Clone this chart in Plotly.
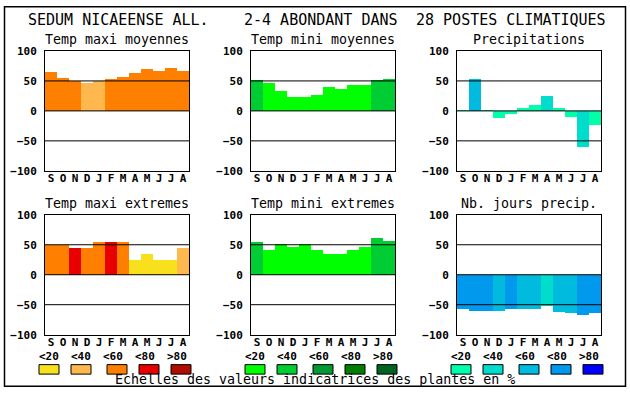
import html
import plotly.graph_objects as go

# ---------------- data ----------------
months = ["S", "O", "N", "D", "J", "F", "M", "A", "M", "J", "J", "A"]
panel_titles = ["Temp maxi moyennes", "Temp mini moyennes", "Precipitations",
                "Temp maxi extremes", "Temp mini extremes", "Nb. jours precip."]
y_ticks = [-100, -50, 0, 50, 100]
scale_labels = ["<20", "<40", "<60", "<80", ">80"]

tmax_moy = [65, 55, 50, 47, 50, 53, 57, 63, 70, 67, 72, 67]
tmax_moy_cls = [2, 2, 2, 1, 1, 2, 2, 2, 2, 2, 2, 2]
tmin_moy = [52, 47, 34, 24, 24, 27, 40, 37, 44, 44, 52, 54]
tmin_moy_cls = [1, 0, 0, 0, 0, 0, 0, 0, 0, 0, 1, 1]
precip = [2, 54, 2, -12, -6, 5, 10, 25, 4, -11, -61, -23]
precip_cls = [0, 2, 0, 0, 0, 0, 0, 1, 0, 0, 1, 0]
tmax_ext = [49, 49, 44, 45, 54, 55, 54, 25, 35, 24, 25, 44]
tmax_ext_cls = [2, 2, 3, 2, 2, 3, 2, 0, 0, 0, 0, 1]
tmin_ext = [54, 42, 52, 47, 52, 42, 34, 34, 42, 47, 62, 57]
tmin_ext_cls = [1, 0, 0, 0, 0, 0, 0, 0, 0, 0, 1, 1]
nb_jours = [-57, -61, -61, -61, -57, -57, -57, -52, -62, -64, -67, -64]
nb_jours_cls = [3, 3, 3, 2, 3, 2, 2, 1, 2, 2, 3, 3]

# ---------------- styles ----------------
pal_temp = ["#F8E01C", "#FFB84E", "#FF8000", "#E80000", "#B00C00"]
pal_green = ["#00FF00", "#00CC33", "#009933", "#007F00", "#006420"]
pal_blue = ["#00FFAA", "#00DDCC", "#00BBDD", "#0099EE", "#0000FF"]
palettes = [pal_temp, pal_green, pal_blue]

series = [
    (tmax_moy, tmax_moy_cls, pal_temp),
    (tmin_moy, tmin_moy_cls, pal_green),
    (precip, precip_cls, pal_blue),
    (tmax_ext, tmax_ext_cls, pal_temp),
    (tmin_ext, tmin_ext_cls, pal_green),
    (nb_jours, nb_jours_cls, pal_blue),
]

W, H = 630, 394
FONT = "DejaVu Sans Mono"
# the photographed page maps figure y -> 5 + 0.968*y; compensate
Y_OFF, Y_SCL = 5.0, 0.968


def px(x):
    return x / W


def py(y):
    yd = (y - Y_OFF) / Y_SCL
    yd = max(0.75, min(H - 0.75, yd))
    return 1 - yd / H


panels_x = [45, 251, 457]
panel_w = 144
rows_y = [(50, 170), (214, 334)]

fig = go.Figure()
layout = dict(
    width=W, height=H, autosize=False,
    margin=dict(l=0, r=0, t=0, b=0, pad=0),
    paper_bgcolor="white", plot_bgcolor="white",
    bargap=0, showlegend=False,
    font=dict(family=FONT, color="black"),
)
shapes = []
annotations = []

for i, (vals, cls, pal) in enumerate(series):
    r, c = divmod(i, 3)
    n = "" if i == 0 else str(i + 1)
    fig.add_trace(go.Bar(
        x=list(range(len(months))), y=vals, width=1,
        marker=dict(color=[pal[k] for k in cls], line=dict(width=0)),
        xaxis="x" + n, yaxis="y" + n, hoverinfo="skip",
    ))
    x0 = panels_x[c]
    yt, yb = rows_y[r]
    layout["xaxis" + n] = dict(
        domain=[px(x0), px(x0 + panel_w)], anchor="y" + n,
        range=[-0.5, 11.5], tickmode="array",
        tickvals=list(range(len(months))), ticktext=months,
        showline=True, mirror=True, linecolor="black", linewidth=1,
        showgrid=False, zeroline=False, ticks="", ticklabelstandoff=-3,
        tickfont=dict(family=FONT, size=11, weight="bold", color="black"),
        fixedrange=True,
    )
    layout["yaxis" + n] = dict(
        domain=[py(yb), py(yt)], anchor="x" + n,
        range=[-100, 100], tickmode="array", tickvals=y_ticks,
        showline=True, mirror=True, linecolor="black", linewidth=1,
        showgrid=False, zeroline=False, ticks="", ticklabelstandoff=5,
        tickfont=dict(family=FONT, size=11, weight="bold", color="black"),
        fixedrange=True,
    )
    for v in (-50, 0, 50):
        shapes.append(dict(type="line", xref="x" + n + " domain", yref="y" + n,
                           x0=0, x1=1, y0=v, y1=v, layer="above",
                           line=dict(color="black", width=1)))
    annotations.append(dict(
        text=panel_titles[i], x=px(x0 + panel_w / 2), y=py(yt - 11.5),
        xref="paper", yref="paper", xanchor="center", yanchor="middle",
        showarrow=False, font=dict(family=FONT, size=13.3, color="black")))

# main title
for txt, xl in [("SEDUM NICAEENSE ALL.", 25.5), ("2-4 ABONDANT DANS", 242),
                ("28 POSTES CLIMATIQUES", 414)]:
    annotations.append(dict(
        text=txt, x=px(xl), y=py(19.5), xref="paper", yref="paper",
        xanchor="left", yanchor="middle", showarrow=False,
        font=dict(family=FONT, size=15, color="black")))

# colour scales
label_off = [4.3, 36, 67.7, 100, 131.7]
box_off = [-6, 26, 62, 94, 126]
for g in range(3):
    x0 = panels_x[g]
    for k in range(5):
        annotations.append(dict(
            text=html.escape(scale_labels[k]), x=px(x0 + label_off[k]), y=py(355.5),
            xref="paper", yref="paper", xanchor="center", yanchor="middle",
            showarrow=False,
            font=dict(family=FONT, size=11, weight="bold", color="black")))
        shapes.append(dict(
            type="rect", xref="paper", yref="paper",
            x0=px(x0 + box_off[k]), x1=px(x0 + box_off[k] + 20),
            y0=py(373.5), y1=py(364), fillcolor=palettes[g][k],
            line=dict(color="black", width=1)))

annotations.append(dict(
    text="Echelles des valeurs indicatrices des plantes en %",
    x=px(314.5), y=py(379), xref="paper", yref="paper",
    xanchor="center", yanchor="middle", showarrow=False,
    font=dict(family=FONT, size=13.3, color="black")))

# outer frame
shapes.append(dict(type="rect", xref="paper", yref="paper",
                   x0=px(4.5), x1=px(625.5), y0=py(389.5), y1=py(4.5),
                   line=dict(color="black", width=1.5), layer="above"))

layout["shapes"] = shapes
layout["annotations"] = annotations
fig.update_layout(**layout)

post = ("document.documentElement.style.margin='0';"
        "document.body.style.margin='0';document.body.style.padding='0';"
        "document.documentElement.style.overflow='hidden';"
        "document.body.style.overflow='hidden';")
fig.write_html("out.html", post_script=post,
               config={"displayModeBar": False, "staticPlot": True})
